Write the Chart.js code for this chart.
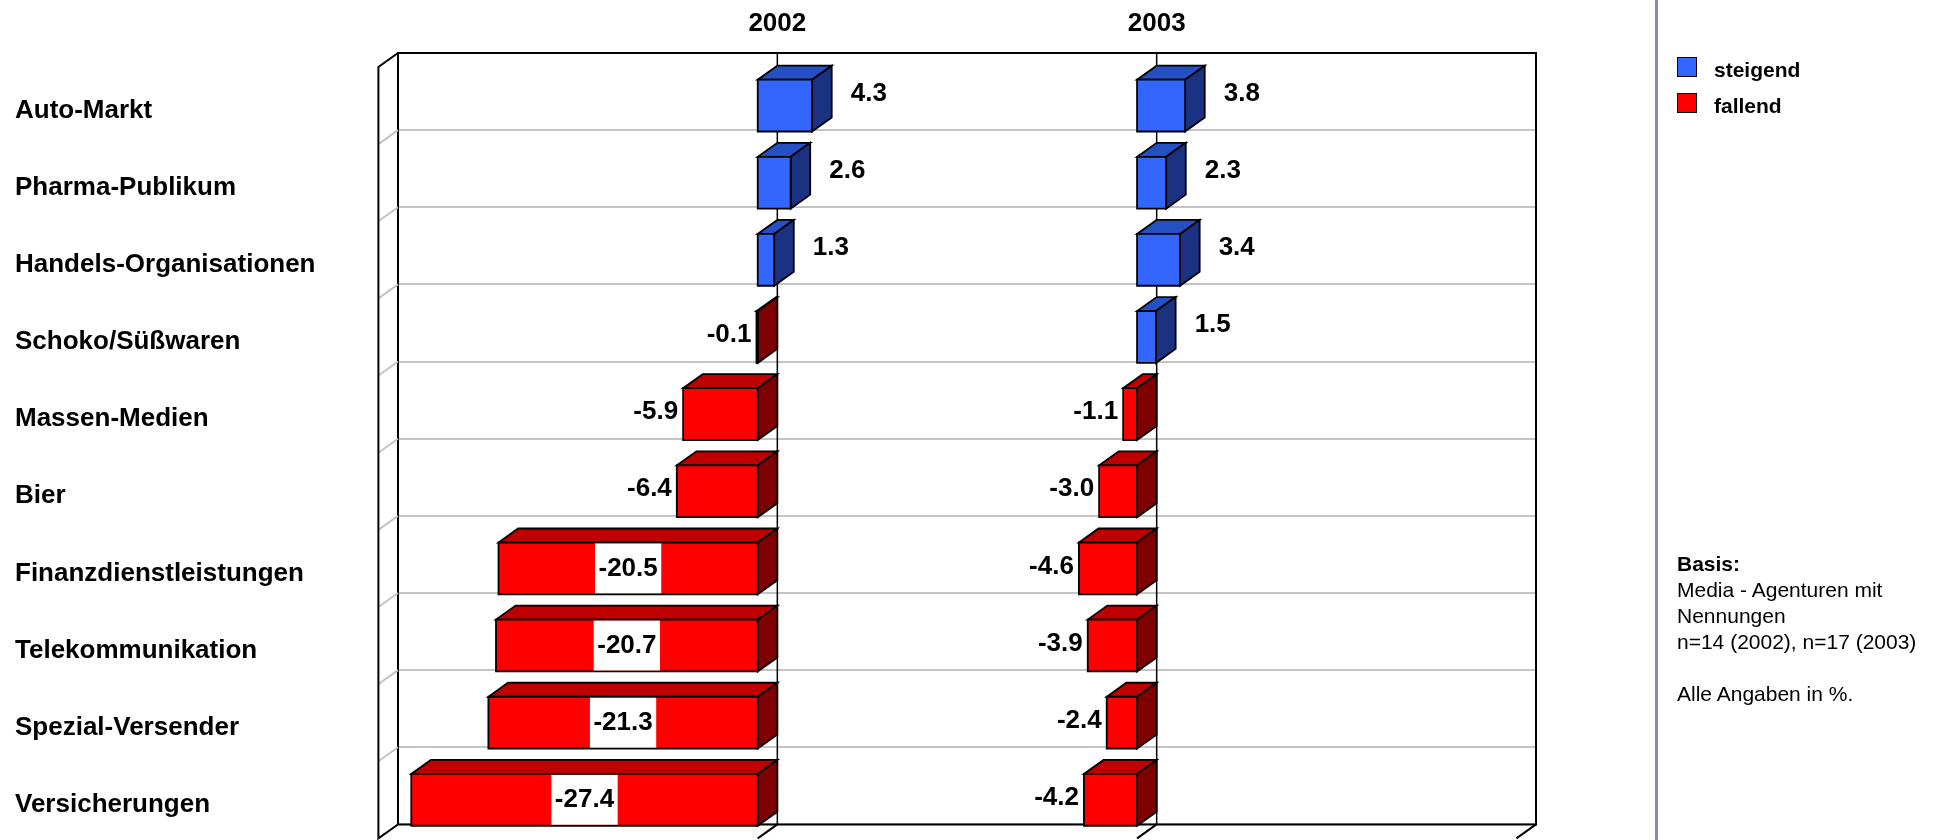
<!DOCTYPE html>
<html lang="de">
<head>
<meta charset="utf-8">
<title>Branchen-Trends 2002 / 2003</title>
<script src="https://cdn.jsdelivr.net/npm/chart.js@4.4.1/dist/chart.umd.min.js"></script>
<style>
  html, body { margin: 0; padding: 0; background: #fff; }
  #wrap { position: relative; width: 1939px; height: 840px; overflow: hidden; font-family: "Liberation Sans", Arial, sans-serif; color: #000; }
  #c { position: absolute; left: 0; top: 0; }
  .sep { position: absolute; left: 1655px; top: 0; width: 3px; height: 840px; background: #8587b7; }
  .key { position: absolute; left: 1677px; width: 20px; height: 20px; box-sizing: border-box; border: 1.5px solid #000; }
  .keytxt { position: absolute; left: 1714px; font-size: 21px; line-height: 21px; font-weight: bold; white-space: nowrap; }
  .notes { position: absolute; left: 1677px; top: 551px; font-size: 21px; line-height: 26px; white-space: nowrap; }
</style>
</head>
<body>
<div id="wrap">
  <canvas id="c" width="1939" height="840"></canvas>
  <div class="sep"></div>
  <div class="key" style="top:57px;background:#3366ff"></div>
  <div class="keytxt" style="top:59px">steigend</div>
  <div class="key" style="top:93px;background:#ff0000"></div>
  <div class="keytxt" style="top:95px">fallend</div>
  <div class="notes"><b>Basis:</b><br>Media - Agenturen mit<br>Nennungen<br>n=14 (2002), n=17 (2003)<br><br>Alle Angaben in %.</div>
</div>
<script>
// Branchen, von oben nach unten
const categories = [
  'Auto-Markt',
  'Pharma-Publikum',
  'Handels-Organisationen',
  'Schoko/Süßwaren',
  'Massen-Medien',
  'Bier',
  'Finanzdienstleistungen',
  'Telekommunikation',
  'Spezial-Versender',
  'Versicherungen'
];
const years = ['2002', '2003'];
const values2002 = [4.3, 2.6, 1.3, -0.1, -5.9, -6.4, -20.5, -20.7, -21.3, -27.4];
const values2003 = [3.8, 2.3, 3.4, 1.5, -1.1, -3.0, -4.6, -3.9, -2.4, -4.2];

// Achsbereiche der beiden Jahres-Felder (gleicher Maßstab, um 30 Punkte versetzt)
const range2002 = [-30, 60];
const range2003 = [-60, 30];

const FONT = "'Liberation Sans', Arial, sans-serif";
const DX = 19.6, DY = 14;            // Tiefenversatz der 3D-Darstellung
const GRID = '#c4c4c4';
const faces = {
  up:   { front: '#3366ff', top: '#2450c4', side: '#1b3282' },
  down: { front: '#ff0000', top: '#bf0000', side: '#7f0000' }
};

function polygon(ctx, pts, fill) {
  ctx.beginPath();
  ctx.moveTo(pts[0][0], pts[0][1]);
  for (let i = 1; i < pts.length; i++) ctx.lineTo(pts[i][0], pts[i][1]);
  ctx.closePath();
  ctx.fillStyle = fill;
  ctx.fill();
  ctx.stroke();
}

const wallAndBars = {
  id: 'wallAndBars',
  beforeDatasetsDraw(chart) {
    const { ctx, chartArea: a, scales } = chart;
    const ys = scales.y;
    ctx.save();
    // Linien der Seitenwand
    ctx.strokeStyle = GRID;
    ctx.lineWidth = 2;
    for (let i = 1; i < categories.length; i++) {
      const yb = (ys.getPixelForValue(i - 1) + ys.getPixelForValue(i)) / 2;
      ctx.beginPath();
      ctx.moveTo(a.left, yb);
      ctx.lineTo(a.left - DX, yb + DY);
      ctx.stroke();
    }
    ctx.strokeStyle = '#000';
    ctx.lineWidth = 2;
    ctx.beginPath();
    ctx.moveTo(a.left, a.top);
    ctx.lineTo(a.left - DX, a.top + DY);
    ctx.lineTo(a.left - DX, a.bottom + DY);
    ctx.lineTo(a.left, a.bottom);
    ctx.lineTo(a.right, a.bottom);
    ctx.lineTo(a.right, a.top);
    ctx.stroke();
    // Bodenmarken an den Achsstrichen
    const xs = scales.x2002;
    xs.ticks.forEach(t => {
      const px = xs.getPixelForValue(t.value);
      if (px <= a.left + 1) return;
      ctx.beginPath();
      ctx.moveTo(px, a.bottom);
      ctx.lineTo(px - DX, a.bottom + DY);
      ctx.stroke();
    });
    // Nulllinien je Jahr
    ctx.lineWidth = 1.5;
    chart.data.datasets.forEach(ds => {
      const px = scales[ds.xAxisID].getPixelForValue(0);
      ctx.beginPath();
      ctx.moveTo(px, a.top);
      ctx.lineTo(px, a.bottom);
      ctx.stroke();
    });
    // Jahresüberschriften
    ctx.fillStyle = '#000';
    ctx.font = 'bold 26px ' + FONT;
    ctx.textAlign = 'center';
    ctx.textBaseline = 'middle';
    chart.data.datasets.forEach(ds => {
      const px = scales[ds.xAxisID].getPixelForValue(0);
      ctx.fillText(ds.label, px, 24);
    });
    ctx.restore();
  },
  afterDatasetsDraw(chart) {
    const { ctx } = chart;
    const n = categories.length;
    const labels = [];
    ctx.save();
    ctx.lineJoin = 'miter';
    ctx.lineWidth = 1.8;
    ctx.strokeStyle = '#000';
    for (let i = 0; i < n; i++) {
      chart.data.datasets.forEach((ds, d) => {
        const el = chart.getDatasetMeta(d).data[i];
        const v = ds.data[i];
        const { x, y, base, height } = el.getProps(['x', 'y', 'base', 'height'], true);
        const L = Math.min(x, base), R = Math.max(x, base);
        const T = y - height / 2, B = y + height / 2;
        const c = v >= 0 ? faces.up : faces.down;
        // Oberseite, rechte Seite, Vorderseite
        polygon(ctx, [[L - DX, T + DY], [R - DX, T + DY], [R, T], [L, T]], c.top);
        polygon(ctx, [[R - DX, T + DY], [R, T], [R, B], [R - DX, B + DY]], c.side);
        polygon(ctx, [[L - DX, T + DY], [R - DX, T + DY], [R - DX, B + DY], [L - DX, B + DY]], c.front);
        labels.push({ v, L, R, T, B, y });
      });
    }
    // Wertbeschriftungen
    ctx.font = 'bold 26px ' + FONT;
    ctx.textBaseline = 'middle';
    labels.forEach(({ v, L, R, T, B, y }) => {
      const txt = v.toFixed(1);
      if (v >= 0) {
        ctx.textAlign = 'left';
        ctx.fillStyle = '#000';
        ctx.fillText(txt, R + 19, y + 2);
      } else if (v <= -10) {
        const w = ctx.measureText(txt).width + 7;
        const cx = (L + R) / 2 - DX;
        ctx.fillStyle = '#fff';
        ctx.fillRect(cx - w / 2, T + DY + 1, w, B - T - 2);
        ctx.textAlign = 'center';
        ctx.fillStyle = '#000';
        ctx.fillText(txt, cx, y + DY);
      } else {
        ctx.textAlign = 'right';
        ctx.fillStyle = '#000';
        ctx.fillText(txt, L - DX - 5, y + 12);
      }
    });
    ctx.restore();
  }
};

const barBase = {
  backgroundColor: 'rgba(0,0,0,0)',
  borderWidth: 0,
  grouped: false,
  barPercentage: 0.672,
  categoryPercentage: 1.0
};

new Chart(document.getElementById('c'), {
  type: 'bar',
  data: {
    labels: categories,
    datasets: [
      Object.assign({ label: years[0], data: values2002, xAxisID: 'x2002', yAxisID: 'y' }, barBase),
      Object.assign({ label: years[1], data: values2003, xAxisID: 'x2003', yAxisID: 'y' }, barBase)
    ]
  },
  options: {
    indexAxis: 'y',
    responsive: false,
    animation: false,
    events: [],
    layout: { padding: { left: 15, right: 403, top: 0, bottom: 13 } },
    plugins: { legend: { display: false }, tooltip: { enabled: false } },
    scales: {
      y: {
        type: 'category',
        position: 'left',
        offset: true,
        grid: { offset: true, color: GRID, lineWidth: 2, drawTicks: false },
        border: { display: true, color: '#000', width: 2 },
        ticks: {
          color: '#000',
          font: { family: FONT, size: 26, weight: 'bold' },
          crossAlign: 'far',
          labelOffset: 19,
          padding: 0
        },
        afterFit(s) { s.width = 383; }
      },
      x2002: {
        type: 'linear',
        position: 'top',
        min: range2002[0],
        max: range2002[1],
        grid: { display: false, drawTicks: false },
        border: { display: true, color: '#000', width: 2 },
        ticks: { display: false, stepSize: 30 },
        afterFit(s) { s.height = 53; }
      },
      x2003: {
        type: 'linear',
        position: 'bottom',
        display: false,
        min: range2003[0],
        max: range2003[1]
      }
    }
  },
  plugins: [wallAndBars]
});
</script>
</body>
</html>
